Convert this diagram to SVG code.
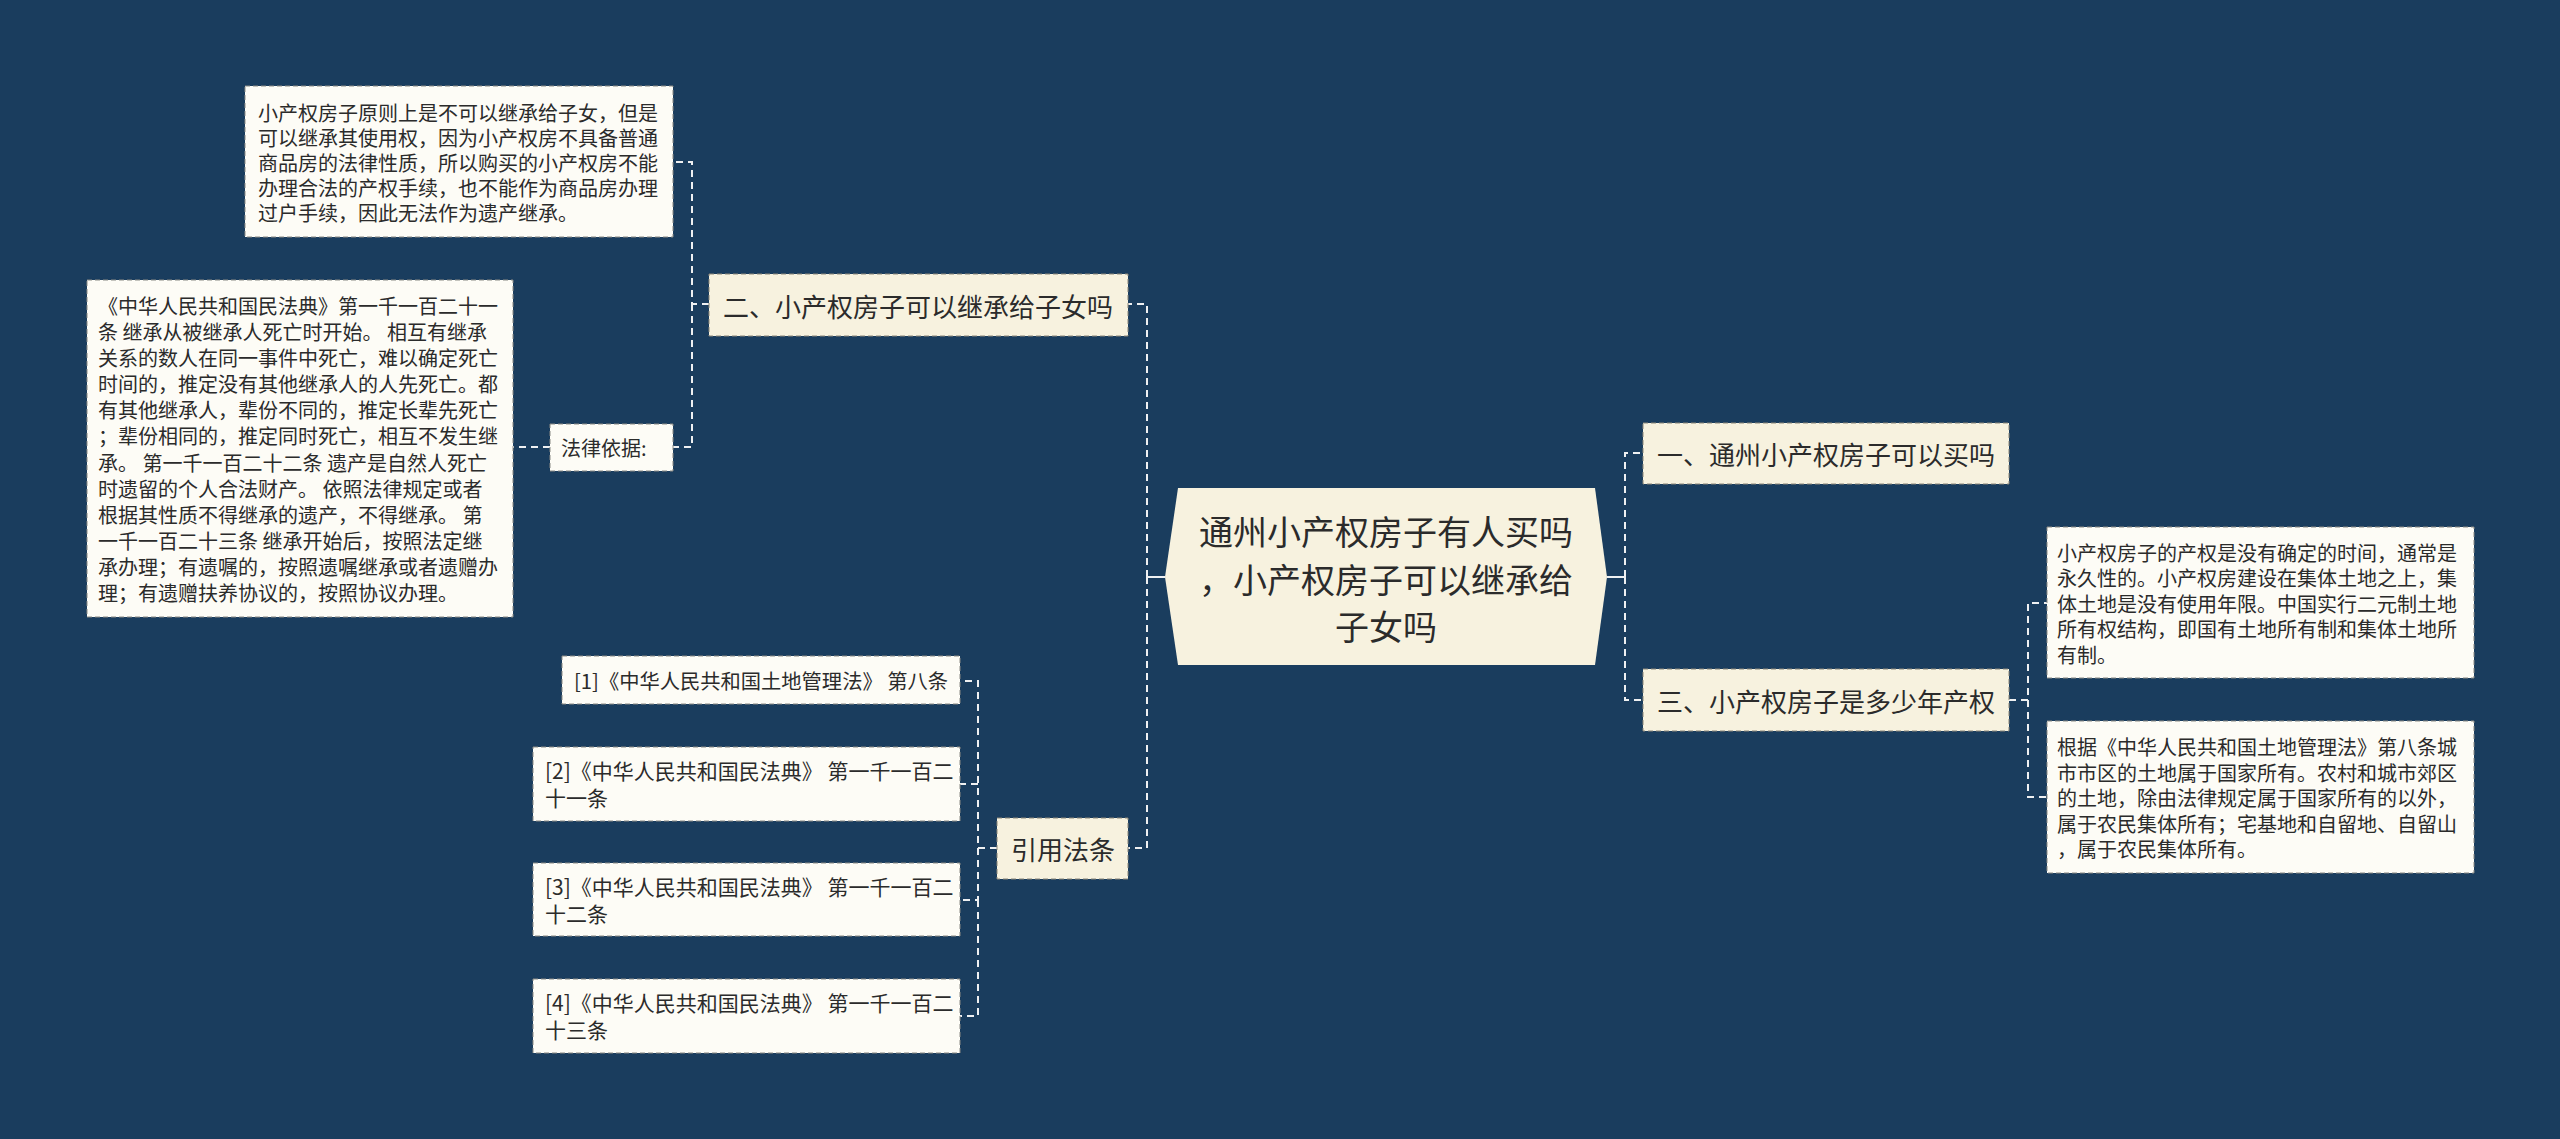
<svg xmlns="http://www.w3.org/2000/svg" width="2560" height="1139" viewBox="0 0 2560 1139">
<style>
.bg{fill:#1a3d5e}
.topic{fill:#f7f2df;stroke:#8a8679;stroke-width:1;stroke-dasharray:5 3}
.note{fill:#fdfcf6;stroke:#8a8a84;stroke-width:1;stroke-dasharray:5 3}
.center{fill:#f7f2df}
.t{font-family:"Noto Sans CJK SC","Noto Sans",sans-serif;fill:#2b2b2b;dominant-baseline:central}
.t20{font-size:20px}
.t21{font-size:21px}
.t26{font-size:26px}
.t34{font-size:34px}
.conn{fill:none;stroke:#eef0f2;stroke-width:2;stroke-dasharray:7 5}
.solid{fill:none;stroke:#eef0f2;stroke-width:2}
</style>
<rect class="bg" x="0" y="0" width="2560" height="1139"/>

<g id="connectors">
  <path class="solid" d="M1165,577 H1147"/>
  <path class="conn" d="M1147,577 V304 H1128"/>
  <path class="conn" d="M1147,577 V848 H1128"/>
  <path class="conn" d="M709,304 H692 V162 H673"/>
  <path class="conn" d="M692,304 V447 H673"/>
  <path class="conn" d="M550,447 H513"/>
  <path class="conn" d="M997,848 H978 V681 H960"/>
  <path class="conn" d="M978,784 H960"/>
  <path class="conn" d="M978,848 V900 H960"/>
  <path class="conn" d="M978,900 V1016 H960"/>
  <path class="solid" d="M1607,577 H1625"/>
  <path class="conn" d="M1625,577 V453 H1643"/>
  <path class="conn" d="M1625,577 V700 H1643"/>
  <path class="conn" d="M2009,700 H2028 V603 H2047"/>
  <path class="conn" d="M2028,700 V797 H2047"/>
</g>

<g id="center">
  <polygon class="center" points="1178,488 1595,488 1607,577 1595,665 1178,665 1165,577"/>
  <text class="t t34" x="1386" y="530" text-anchor="middle">通州小产权房子有人买吗</text>
  <text class="t t34" x="1386" y="578" text-anchor="middle">，小产权房子可以继承给</text>
  <text class="t t34" x="1386" y="625" text-anchor="middle">子女吗</text>
</g>

<g id="topic-2">
  <rect class="topic" x="709" y="274" width="419" height="62"/>
  <text class="t t26" x="723" y="305">二、小产权房子可以继承给子女吗</text>
</g>

<g id="note-2a">
  <rect class="note" x="245" y="86" width="428" height="151"/>
  <text class="t t20" x="258" y="112">小产权房子原则上是不可以继承给子女，但是</text>
  <text class="t t20" x="258" y="137">可以继承其使用权，因为小产权房不具备普通</text>
  <text class="t t20" x="258" y="162">商品房的法律性质，所以购买的小产权房不能</text>
  <text class="t t20" x="258" y="187">办理合法的产权手续，也不能作为商品房办理</text>
  <text class="t t20" x="258" y="212">过户手续，因此无法作为遗产继承。</text>
</g>

<g id="law-basis">
  <rect class="note" x="550" y="424" width="123" height="47"/>
  <text class="t t20" x="561" y="447">法律依据:</text>
</g>

<g id="law-text">
  <rect class="note" x="87" y="280" width="426" height="337"/>
  <text class="t t20" x="98" y="305">《中华人民共和国民法典》第一千一百二十一</text>
  <text class="t t20" x="98" y="331">条 继承从被继承人死亡时开始。 相互有继承</text>
  <text class="t t20" x="98" y="357">关系的数人在同一事件中死亡，难以确定死亡</text>
  <text class="t t20" x="98" y="383">时间的，推定没有其他继承人的人先死亡。都</text>
  <text class="t t20" x="98" y="409">有其他继承人，辈份不同的，推定长辈先死亡</text>
  <text class="t t20" x="98" y="435">；辈份相同的，推定同时死亡，相互不发生继</text>
  <text class="t t20" x="98" y="462">承。 第一千一百二十二条 遗产是自然人死亡</text>
  <text class="t t20" x="98" y="488">时遗留的个人合法财产。 依照法律规定或者</text>
  <text class="t t20" x="98" y="514">根据其性质不得继承的遗产，不得继承。 第</text>
  <text class="t t20" x="98" y="540">一千一百二十三条 继承开始后，按照法定继</text>
  <text class="t t20" x="98" y="566">承办理；有遗嘱的，按照遗嘱继承或者遗赠办</text>
  <text class="t t20" x="98" y="592">理；有遗赠扶养协议的，按照协议办理。</text>
</g>

<g id="topic-ref">
  <rect class="topic" x="997" y="818" width="131" height="61"/>
  <text class="t t26" x="1011" y="848">引用法条</text>
</g>

<g id="ref-1">
  <rect class="note" x="562" y="656" width="398" height="48"/>
  <text class="t t20" x="574" y="680" textLength="374" lengthAdjust="spacingAndGlyphs">[1]《中华人民共和国土地管理法》 第八条</text>
</g>
<g id="ref-2">
  <rect class="note" x="533" y="747" width="427" height="74"/>
  <text class="t t21" x="545" y="770">[2]《中华人民共和国民法典》 第一千一百二</text>
  <text class="t t21" x="545" y="797">十一条</text>
</g>
<g id="ref-3">
  <rect class="note" x="533" y="863" width="427" height="73"/>
  <text class="t t21" x="545" y="886">[3]《中华人民共和国民法典》 第一千一百二</text>
  <text class="t t21" x="545" y="913">十二条</text>
</g>
<g id="ref-4">
  <rect class="note" x="533" y="979" width="427" height="74"/>
  <text class="t t21" x="545" y="1002">[4]《中华人民共和国民法典》 第一千一百二</text>
  <text class="t t21" x="545" y="1029">十三条</text>
</g>

<g id="topic-1">
  <rect class="topic" x="1643" y="423" width="366" height="61"/>
  <text class="t t26" x="1657" y="453">一、通州小产权房子可以买吗</text>
</g>

<g id="topic-3">
  <rect class="topic" x="1643" y="669" width="366" height="62"/>
  <text class="t t26" x="1657" y="700">三、小产权房子是多少年产权</text>
</g>

<g id="note-3a">
  <rect class="note" x="2047" y="527" width="427" height="151"/>
  <text class="t t20" x="2057" y="552">小产权房子的产权是没有确定的时间，通常是</text>
  <text class="t t20" x="2057" y="577">永久性的。小产权房建设在集体土地之上，集</text>
  <text class="t t20" x="2057" y="603">体土地是没有使用年限。中国实行二元制土地</text>
  <text class="t t20" x="2057" y="628">所有权结构，即国有土地所有制和集体土地所</text>
  <text class="t t20" x="2057" y="654">有制。</text>
</g>

<g id="note-3b">
  <rect class="note" x="2047" y="721" width="427" height="152"/>
  <text class="t t20" x="2057" y="746">根据《中华人民共和国土地管理法》第八条城</text>
  <text class="t t20" x="2057" y="772">市市区的土地属于国家所有。农村和城市郊区</text>
  <text class="t t20" x="2057" y="797">的土地，除由法律规定属于国家所有的以外，</text>
  <text class="t t20" x="2057" y="823">属于农民集体所有；宅基地和自留地、自留山</text>
  <text class="t t20" x="2057" y="848">，属于农民集体所有。</text>
</g>
</svg>
